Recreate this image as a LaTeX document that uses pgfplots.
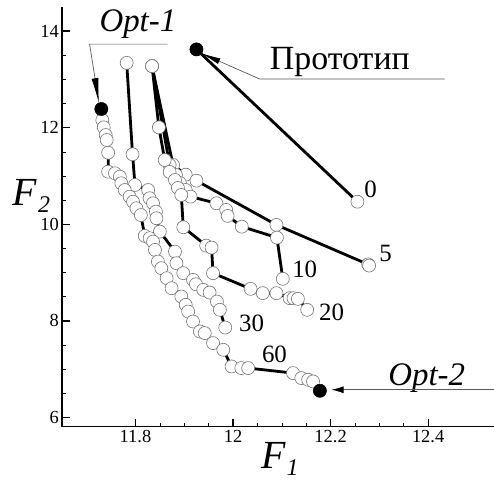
\documentclass[border=0pt]{standalone}
\usepackage{fontspec}
\setmainfont{LiberationSerif}[Extension=.ttf, UprightFont=*-Regular, ItalicFont=*-Italic, BoldFont=*-Bold, BoldItalicFont=*-BoldItalic]
\usepackage{pgfplots}
\pgfplotsset{compat=1.18}
\usetikzlibrary{arrows.meta}

\begin{document}
\begin{tikzpicture}
\pgfplotsset{
  front/.style={black, line width=2.8bp, mark=*, mark size=6.5bp,
    mark options={fill=white, draw=black!55, line width=0.6bp, solid}},
  opt/.style={only marks, mark=*, mark size=6.6bp,
    mark options={fill=black, draw=black}},
}
\tikzset{leader/.style={black!65, line width=0.7bp}}
\begin{axis}[
  name=ax,
  set layers, mark layer=axis foreground,
  scale only axis, width=431.7bp, height=419.7bp,
  xmin=11.65, xmax=12.535, ymin=5.81, ymax=14.5,
  axis x line=bottom, axis y line=left,
  axis line style={line width=1.6bp, -},
  xtick={11.8,12,12.2,12.4}, ytick={6,8,10,12,14},
  minor x tick num=3, minor y tick num=3,
  tick align=inside,
  major tick length=8bp, minor tick length=4bp,
  major tick style={line width=1.3bp, black},
  minor tick style={line width=0.6bp, black},
  tick label style={font=\fontsize{18.5}{18.5}\selectfont},
  /pgf/number format/assume math mode=true,
  clip=false,
  xlabel={\fontsize{40}{40}\selectfont\textit{F}\kern1bp\raisebox{-7bp}{\fontsize{24}{24}\selectfont\textit{1}}},
  ylabel={\fontsize{40}{40}\selectfont\textit{F}\kern1bp\raisebox{-7bp}{\fontsize{24}{24}\selectfont\textit{2}}},
  every axis x label/.style={at={(axis description cs:0.504,-0.078)}, anchor=center},
  every axis y label/.style={at={(axis description cs:-0.072,0.55)}, anchor=center},
]

% generation 0 (prototype -> one point)
\addplot[front] coordinates {(11.925,13.622) (12.255,10.469)};

% generation 5
\addplot[front] coordinates {
  (11.834,13.276) (11.877,11.229) (11.903,11.028) (11.925,10.904)
  (12.089,9.988) (12.277,9.170) (12.279,9.146)};

% generation 10
\addplot[front] coordinates {
  (11.834,13.276) (11.870,11.229) (11.883,11.022) (11.891,10.856)
  (11.903,10.711) (11.913,10.573) (11.966,10.436) (11.986,10.298)
  (11.989,10.174) (12.018,9.952) (12.090,9.725) (12.102,8.871)};

% generation 20
\addplot[front] coordinates {
  (11.834,13.276) (11.848,12.008) (11.860,11.332) (11.870,11.084)
  (11.881,10.918) (11.887,10.753) (11.894,10.608) (11.898,9.940)
  (11.945,9.559) (11.956,9.518) (11.959,8.989) (12.036,8.664)
  (12.061,8.575) (12.089,8.575) (12.116,8.472) (12.124,8.470)
  (12.133,8.457) (12.152,8.230)};

% generation 30
\addplot[front] coordinates {
  (11.782,13.344) (11.794,11.450) (11.799,10.815) (11.826,10.711)
  (11.829,10.540) (11.836,10.436) (11.842,10.263) (11.843,10.126)
  (11.850,9.849) (11.881,9.435) (11.884,9.195) (11.898,8.989)
  (11.918,8.850) (11.924,8.760) (11.939,8.643) (11.952,8.587)
  (11.967,8.401) (11.973,8.230) (11.984,7.863)};

% generation 60
\addplot[front] coordinates {
  (11.730,12.387) (11.732,12.159) (11.735,12.008) (11.739,11.849)
  (11.741,11.746) (11.744,11.483) (11.744,11.090) (11.758,11.057)
  (11.768,10.987) (11.771,10.850) (11.778,10.711) (11.788,10.573)
  (11.795,10.469) (11.802,10.333) (11.811,10.192) (11.819,9.760)
  (11.829,9.713) (11.836,9.642) (11.840,9.471) (11.846,9.229)
  (11.853,9.092) (11.864,8.885) (11.874,8.678) (11.894,8.505)
  (11.903,8.333) (11.908,8.194) (11.918,7.988) (11.932,7.781)
  (11.942,7.748) (11.959,7.541) (11.980,7.402) (11.997,7.057)
  (12.017,7.024) (12.031,7.024) (12.123,6.920) (12.140,6.817)
  (12.154,6.782) (12.164,6.747) (12.178,6.554)};

% prototype and the two optima
\addplot[opt] coordinates {(11.925,13.622) (11.730,12.387) (12.178,6.554)};

% generation labels
\node[font=\fontsize{25}{25}\selectfont] at (axis cs:12.282,10.726) {0};
\node[font=\fontsize{25}{25}\selectfont] at (axis cs:12.313,9.402) {5};
\node[font=\fontsize{25}{25}\selectfont] at (axis cs:12.147,9.078) {10};
\node[font=\fontsize{25}{25}\selectfont] at (axis cs:12.202,8.182) {20};
\node[font=\fontsize{25}{25}\selectfont] at (axis cs:12.038,7.955) {30};
\node[font=\fontsize{25}{25}\selectfont] at (axis cs:12.085,7.299) {60};

% callouts
\node[font=\fontsize{34}{34}\selectfont] at (axis cs:12.219,13.359) {Прототип};
\draw[leader, -{Latex[length=20bp, width=6bp, color=black]}]
  (axis cs:12.434,13.007) -- (axis cs:12.055,13.007) -- (axis cs:11.934,13.545);

\node[font=\fontsize{33}{33}\selectfont\itshape] at (axis cs:11.805,14.145) {Opt-1};
\draw[leader, -{Latex[length=25bp, width=7bp, color=black]}]
  (axis cs:11.866,13.731) -- (axis cs:11.706,13.731) -- (axis cs:11.725,12.511);

\node[font=\fontsize{33}{33}\selectfont\itshape] at (axis cs:12.397,6.823) {Opt-2};
\draw[leader, -{Latex[length=12bp, width=7bp, color=black]}]
  (axis cs:12.535,6.575) -- (axis cs:12.202,6.575);
\end{axis}
\pgfresetboundingbox
\path ([shift={(-62.3bp,-56.3bp)}]ax.south west) rectangle ([shift={(0bp,7bp)}]ax.north east);
\end{tikzpicture}
\end{document}
